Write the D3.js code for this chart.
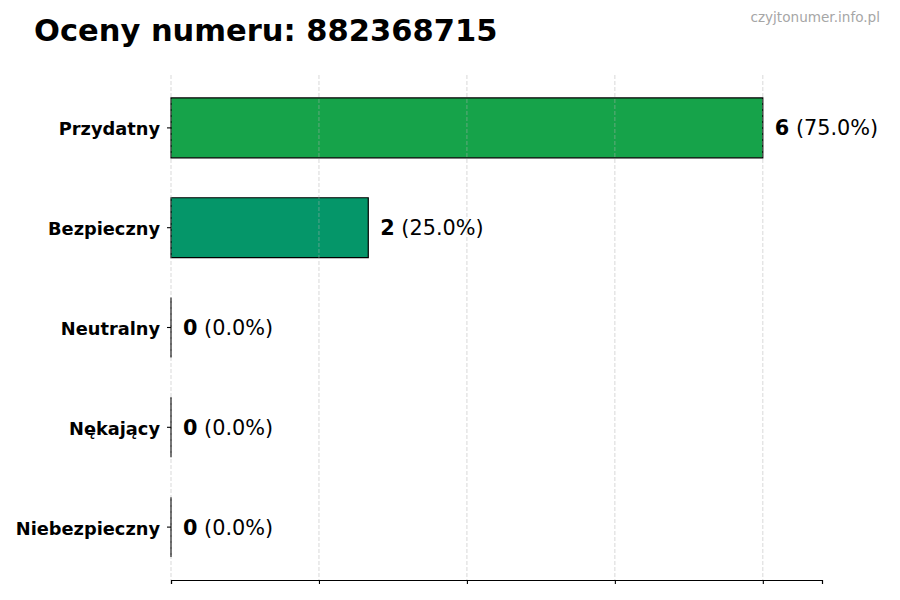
<!DOCTYPE html>
<html>
<head>
<meta charset="utf-8">
<script src="https://cdn.jsdelivr.net/npm/d3@7"></script>
<style>
  body { margin: 0; background: #fff; }
  svg { font-family: "DejaVu Sans", sans-serif; }
</style>
</head>
<body>
<div id="chart"></div>
<script>
// Chart data
const categories = ["Przydatny", "Bezpieczny", "Neutralny", "Nękający", "Niebezpieczny"];
const counts = [6, 2, 0, 0, 0];
const barColors = ["#16a34a", "#059669", "#6b7280", "#ea580c", "#dc2626"];
const xTicks = [0, 1.5, 3, 4.5, 6];
const titleText = "Oceny numeru: 882368715";
const watermark = "czyjtonumer.info.pl";

const width = 900;
const height = 600;
const margin = { top: 75, right: 78, bottom: 20, left: 171 };
const total = d3.sum(counts);

const svg = d3.select("#chart")
    .append("svg")
    .attr("width", width)
    .attr("height", height);

const x = d3.scaleLinear()
    .domain([0, d3.max(counts) * 1.1])
    .range([margin.left, width - margin.right]);

const y = d3.scaleBand()
    .domain(categories)
    .range([margin.top, height - margin.bottom])
    .paddingInner(0.4)
    .paddingOuter(0.23);

// Bars (drawn as paths so zero-width bars still show their edge)
svg.append("g")
    .selectAll("path")
    .data(categories)
    .join("path")
    .attr("d", (d, i) => {
        const x0 = x(0), x1 = x(counts[i]), y0 = y(d), h = y.bandwidth();
        return `M${x0},${y0}H${x1}V${y0 + h}H${x0}Z`;
    })
    .attr("fill", (d, i) => barColors[i])
    .attr("stroke", "#000")
    .attr("stroke-width", 1.2);

// Vertical dashed grid lines, on top of bars
svg.append("g")
    .selectAll("line")
    .data(xTicks)
    .join("line")
    .attr("x1", d => x(d))
    .attr("x2", d => x(d))
    .attr("y1", margin.top)
    .attr("y2", height - margin.bottom)
    .attr("stroke", "#b0b0b0")
    .attr("stroke-opacity", 0.55)
    .attr("stroke-width", 0.9)
    .attr("stroke-dasharray", "4,2");

// Bottom axis, ticks only
const xAxis = svg.append("g")
    .attr("transform", `translate(0, ${height - margin.bottom})`)
    .call(d3.axisBottom(x).tickValues(xTicks).tickSize(4).tickFormat(""));
xAxis.select(".domain").attr("stroke", "#000").attr("stroke-width", 1.2);
xAxis.selectAll(".tick line").attr("stroke", "#000").attr("stroke-width", 1.1);

// Left axis: ticks and bold labels, no spine
const yAxis = svg.append("g")
    .attr("transform", `translate(${margin.left}, 0)`)
    .call(d3.axisLeft(y).tickSize(4).tickPadding(7));
yAxis.select(".domain").remove();
yAxis.selectAll(".tick line").attr("stroke", "#000").attr("stroke-width", 1.1);
yAxis.selectAll(".tick text")
    .attr("font-family", "DejaVu Sans")
    .attr("font-size", "17.8px")
    .attr("font-weight", "bold")
    .attr("dy", "0.42em")
    .attr("fill", "#000");

// Value labels
const labels = svg.append("g")
    .selectAll("text")
    .data(categories)
    .join("text")
    .attr("x", (d, i) => x(counts[i]) + 12)
    .attr("y", d => y(d) + y.bandwidth() / 2)
    .attr("dy", "0.36em")
    .attr("font-size", "20.8px")
    .attr("fill", "#000");
labels.append("tspan")
    .attr("font-weight", "bold")
    .text((d, i) => counts[i]);
labels.append("tspan")
    .text((d, i) => " (" + (counts[i] / total * 100).toFixed(1) + "%)");

// Title
svg.append("text")
    .attr("x", 34)
    .attr("y", 41)
    .attr("font-size", "30.5px")
    .attr("font-weight", "bold")
    .attr("fill", "#000")
    .text(titleText);

// Watermark
svg.append("text")
    .attr("x", 880)
    .attr("y", 22)
    .attr("text-anchor", "end")
    .attr("font-size", "13.6px")
    .attr("fill", "#a6a6a6")
    .text(watermark);
</script>
</body>
</html>
